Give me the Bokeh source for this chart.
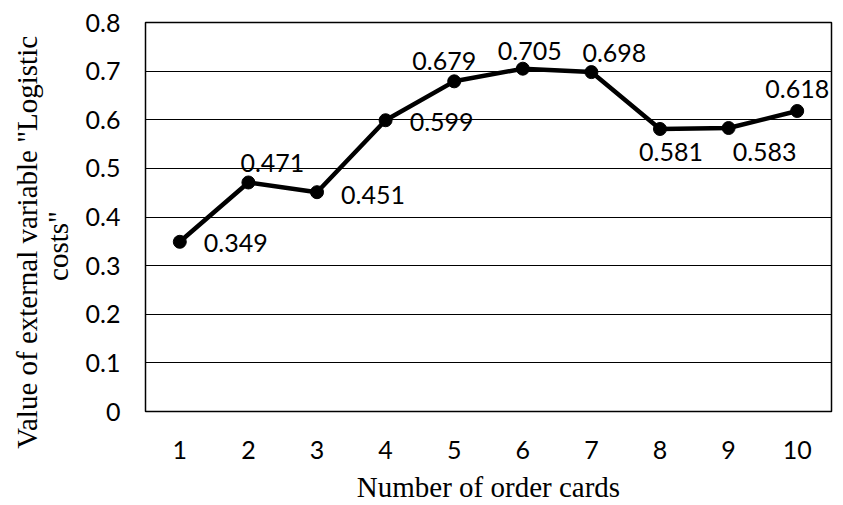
from bokeh.plotting import figure
from bokeh.models import ColumnDataSource, LabelSet, FixedTicker, Range1d, LinearAxis
from bokeh.core.properties import value
from bokeh.embed import file_html
from bokeh.resources import INLINE

# ---- data ----
order_cards = [1, 2, 3, 4, 5, 6, 7, 8, 9, 10]
logistic_costs = [0.349, 0.471, 0.451, 0.599, 0.679, 0.705, 0.698, 0.581, 0.583, 0.618]
value_labels = ["0.349", "0.471", "0.451", "0.599", "0.679", "0.705", "0.698", "0.581", "0.583", "0.618"]
y_ticks = [0, 0.1, 0.2, 0.3, 0.4, 0.5, 0.6, 0.7, 0.8]
y_tick_labels = ["0", "0.1", "0.2", "0.3", "0.4", "0.5", "0.6", "0.7", "0.8"]
x_title = "Number of order cards"
y_title_line1 = 'Value of external variable "Logistic'
y_title_line2 = 'costs"'

# ---- layout of the data labels (pixel offsets from each point) ----
label_dx = [56, 24, 56, 56, -10, 7, 23, 11, 36, 0]
label_dy = [-1, 19, -3, -2, 20, 18, 19, -23, -24, 22]
# trailing no-break spaces that push each y-title line down (layout only)
PAD = "\u00a0"
y_title_pad = (7, 8)

SANS = "Lato"
SERIF = "Liberation Serif"

p = figure(width=843, height=505, output_backend="svg", toolbar_location=None,
           x_range=Range1d(0.5, 10.5), y_range=Range1d(0, 0.8),
           min_border_left=145, min_border_right=12, min_border_top=22, min_border_bottom=93)
p.background_fill_color = "white"
p.border_fill_color = "white"
p.outline_line_color = "black"
p.outline_line_width = 1.5

# axes
p.xaxis.ticker = FixedTicker(ticks=order_cards)
p.yaxis.ticker = FixedTicker(ticks=y_ticks)
p.yaxis.major_label_overrides = {t: s for t, s in zip(y_ticks, y_tick_labels)}
for ax in (p.xaxis, p.yaxis):
    ax.axis_line_color = None
    ax.major_tick_line_color = None
    ax.minor_tick_line_color = None
    ax.major_label_text_font = SANS
    ax.major_label_text_font_size = "25px"
    ax.major_label_text_color = "black"
p.yaxis.major_label_standoff = 19
p.xaxis.major_label_standoff = 23

p.xaxis.axis_label = x_title
p.xaxis.axis_label_text_font = SERIF
p.xaxis.axis_label_text_font_size = "29px"
p.xaxis.axis_label_text_font_style = "normal"
p.xaxis.axis_label_text_color = "black"
p.xaxis.axis_label_standoff = 9

# y axis title: two extra label-only axes on the left (inner line first)
for txt, npad, so in ((y_title_line2, y_title_pad[1], 9), (y_title_line1, y_title_pad[0], -4)):
    ax = LinearAxis(ticker=FixedTicker(ticks=[]),
                    axis_label=txt + PAD * npad, axis_label_standoff=so,
                    axis_label_text_font=SERIF, axis_label_text_font_size="29px",
                    axis_label_text_font_style="normal", axis_label_text_color="black",
                    axis_line_color=None, major_tick_line_color=None,
                    minor_tick_line_color=None, major_tick_out=0, major_tick_in=0,
                    minor_tick_out=0, minor_tick_in=0, major_label_standoff=0)
    p.add_layout(ax, "left")

# grid
p.xgrid.grid_line_color = None
p.ygrid.ticker = FixedTicker(ticks=y_ticks)
p.ygrid.grid_line_color = "black"
p.ygrid.grid_line_width = 1

src = ColumnDataSource(dict(x=order_cards, y=logistic_costs, t=value_labels,
                            dx=label_dx, dy=label_dy))
p.line("x", "y", source=src, line_color="black", line_width=4.5)
p.scatter("x", "y", source=src, size=13, fill_color="black", line_color="black")

labels = LabelSet(x="x", y="y", text="t", source=src, x_offset="dx", y_offset="dy",
                  text_font=value(SANS), text_font_size=value("25px"), text_color="black",
                  text_align="center", text_baseline="middle")
p.add_layout(labels)

open("out.html", "w").write(file_html(p, INLINE))
